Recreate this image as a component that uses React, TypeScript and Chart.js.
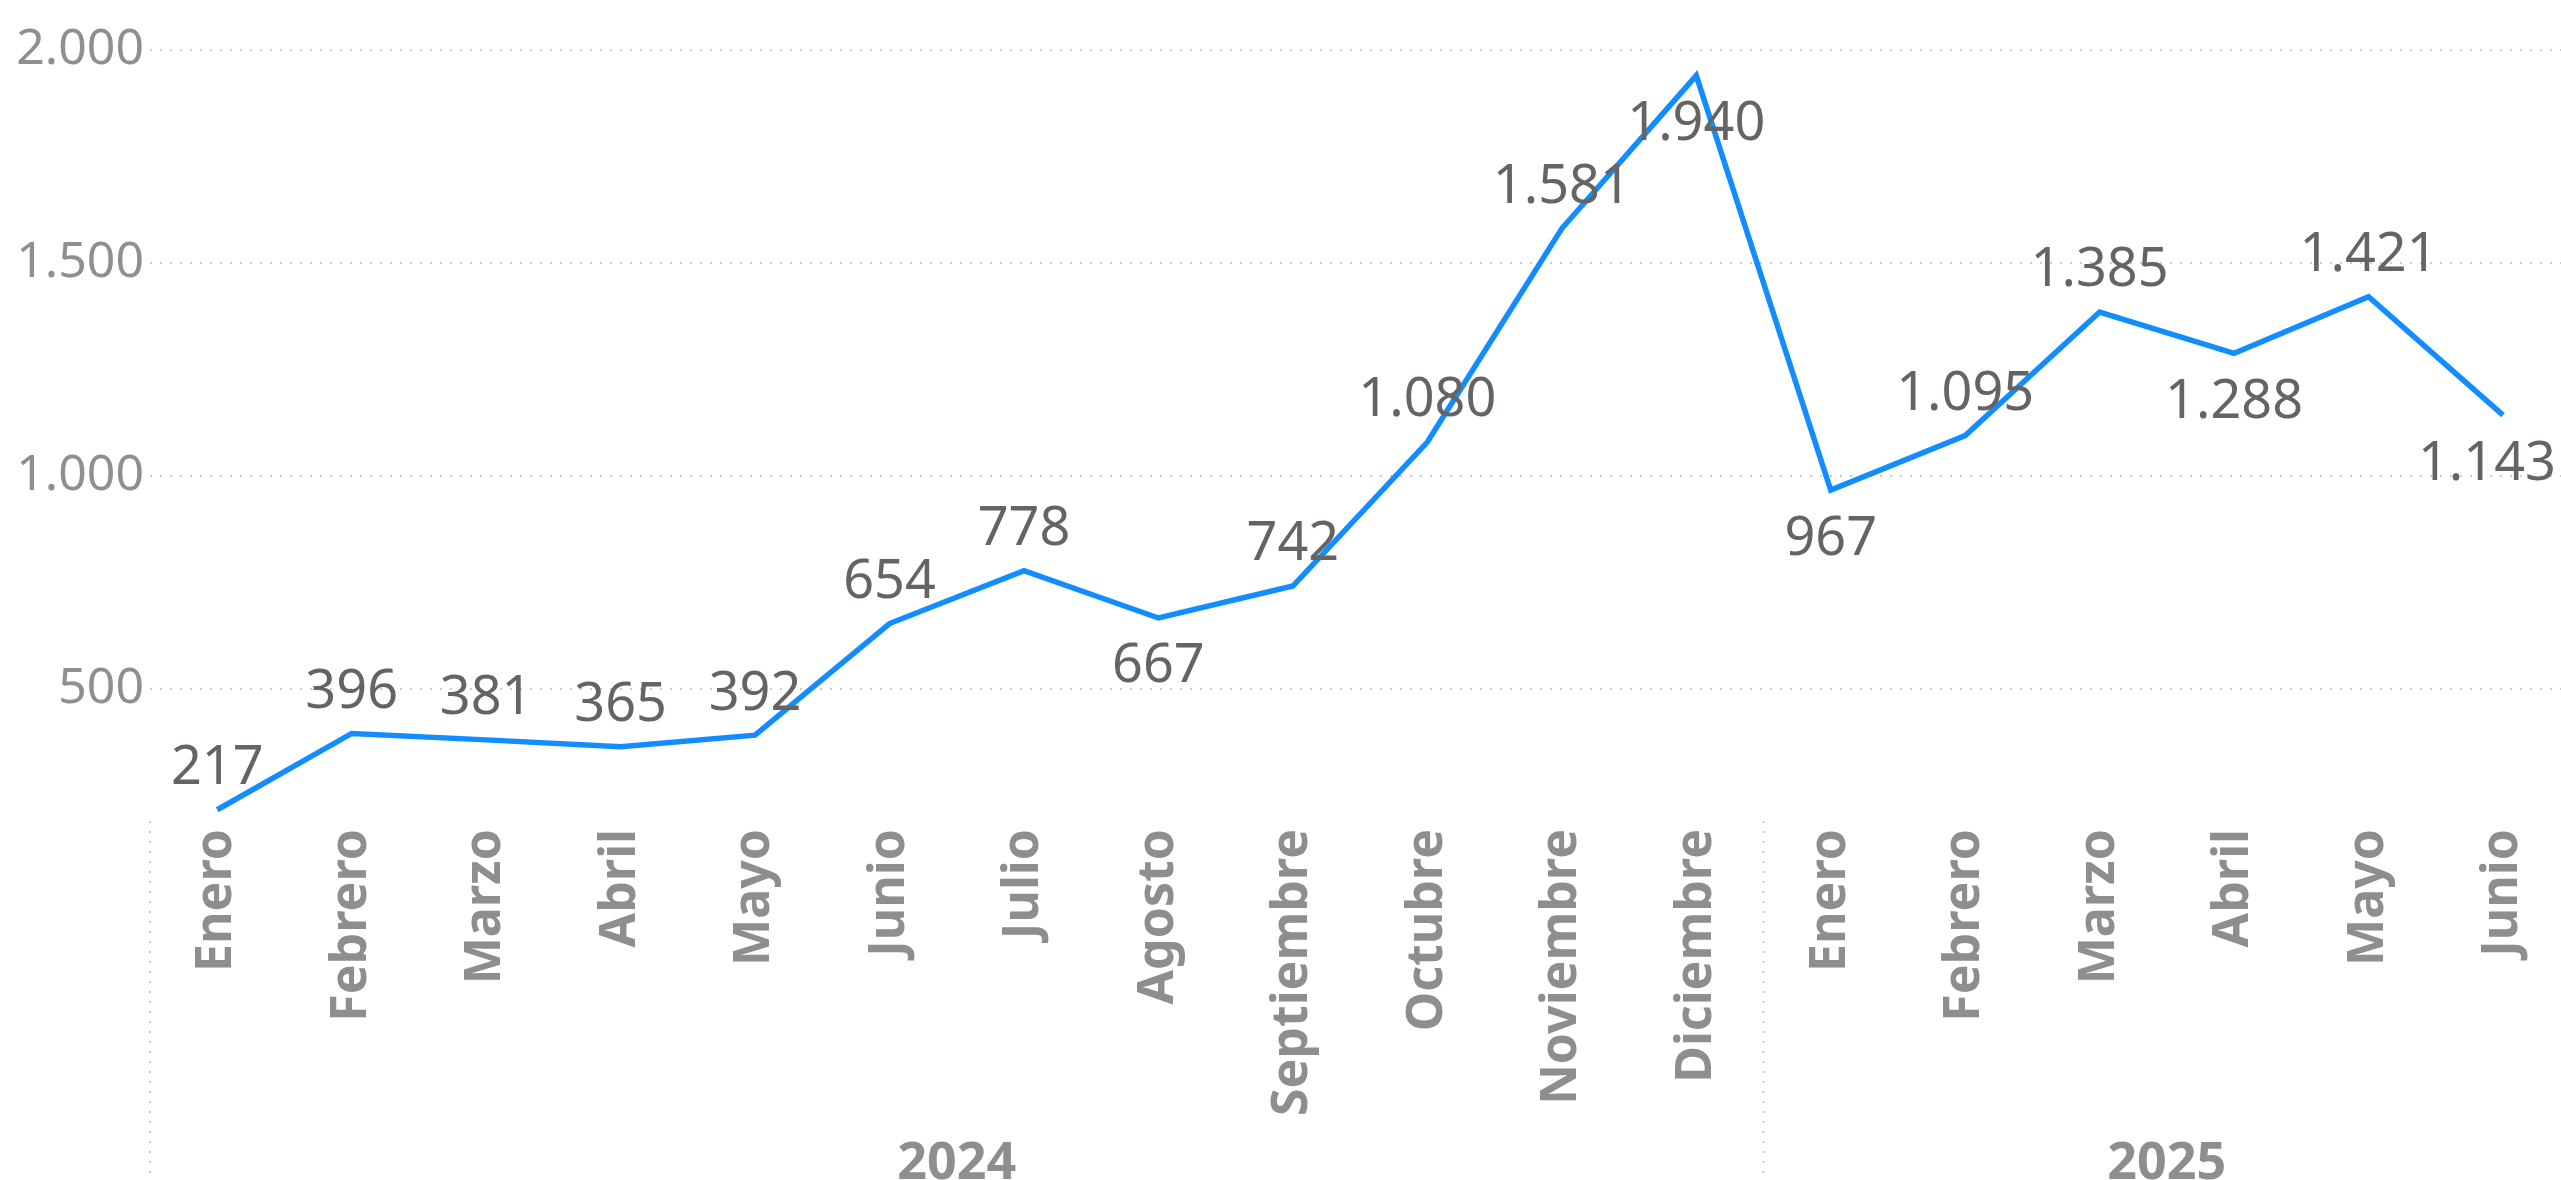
import React, { useEffect, useRef } from 'react';
import { Chart, registerables } from 'chart.js';

Chart.register(...registerables);

// ---- data ----
const months2024 = ['Enero', 'Febrero', 'Marzo', 'Abril', 'Mayo', 'Junio', 'Julio', 'Agosto', 'Septiembre', 'Octubre', 'Noviembre', 'Diciembre'];
const months2025 = ['Enero', 'Febrero', 'Marzo', 'Abril', 'Mayo', 'Junio'];
const years = ['2024', '2025'];
const values2024 = [217, 396, 381, 365, 392, 654, 778, 667, 742, 1080, 1581, 1940];
const values2025 = [967, 1095, 1385, 1288, 1421, 1143];
const yTicks = [500, 1000, 1500, 2000];
const yMin = 200;
const yMax = 2000;
// indices whose value label sits under the line
const labelsBelow = [7, 11, 12, 15, 17];

const FONT = '"Noto Sans", "Open Sans", sans-serif';
const CANVAS_W = 2575;
const CANVAS_H = 1180;

const fmt = (v: number) => String(Math.round(v)).replace(/\B(?=(\d{3})+(?!\d))/g, '.');

const overlayPlugin = {
  id: 'overlay',
  afterDatasetsDraw(chart: any) {
    const ctx = chart.ctx;
    const meta = chart.getDatasetMeta(0);
    const data = chart.data.datasets[0].data as number[];
    const visibleRight = Math.min(chart.width, window.innerWidth) - 5;
    ctx.save();
    ctx.font = `54px ${FONT}`;
    ctx.fillStyle = '#666462';
    ctx.textAlign = 'center';
    ctx.textBaseline = 'alphabetic';
    meta.data.forEach((pt: any, i: number) => {
      const t = fmt(data[i]);
      const w = ctx.measureText(t).width;
      let cx = pt.x;
      if (cx + w / 2 > visibleRight) cx = visibleRight - w / 2;
      const below = labelsBelow.includes(i);
      const cy = below ? pt.y + 45 : pt.y - 45;
      ctx.fillText(t, cx, cy + 54 * 0.36);
    });
    ctx.restore();
  },
  afterDraw(chart: any) {
    const ctx = chart.ctx;
    const x = chart.scales.x;
    const area = chart.chartArea;
    const step = x.getPixelForValue(1) - x.getPixelForValue(0);
    const groups = [
      { name: years[0], count: months2024.length },
      { name: years[1], count: months2025.length },
    ];
    ctx.save();
    let start = 0;
    groups.forEach((g) => {
      const left = x.getPixelForValue(start) - step / 2;
      const right = x.getPixelForValue(start + g.count - 1) + step / 2;
      ctx.strokeStyle = '#c8c8c8';
      ctx.lineWidth = 2;
      ctx.setLineDash([2, 8]);
      ctx.beginPath();
      ctx.moveTo(left, area.bottom + 4);
      ctx.lineTo(left, chart.height);
      ctx.stroke();
      ctx.setLineDash([]);
      ctx.font = `bold 52px ${FONT}`;
      ctx.fillStyle = '#8e8e8e';
      ctx.textAlign = 'center';
      ctx.textBaseline = 'alphabetic';
      ctx.fillText(g.name, (left + right) / 2, chart.height - 1);
      start += g.count;
    });
    ctx.restore();
  },
};

export default function App() {
  const ref = useRef<HTMLCanvasElement | null>(null);

  useEffect(() => {
    document.body.style.overflow = 'hidden';
    document.documentElement.style.overflow = 'hidden';
    const canvas = ref.current;
    if (!canvas) return;
    const labels = [...months2024, ...months2025];
    const values = [...values2024, ...values2025];
    const chart = new Chart(canvas, {
      type: 'line',
      data: {
        labels,
        datasets: [
          {
            data: values,
            borderColor: '#118DFF',
            backgroundColor: '#118DFF',
            borderWidth: 5.5,
            pointRadius: 0,
            pointHoverRadius: 0,
            tension: 0,
            fill: false,
          },
        ],
      },
      options: {
        animation: false,
        responsive: false,
        maintainAspectRatio: false,
        devicePixelRatio: 1,
        layout: { padding: { top: 50, left: 0, right: 0, bottom: 0 } },
        plugins: {
          legend: { display: false },
          tooltip: { enabled: false },
          title: { display: false },
        },
        scales: {
          x: {
            type: 'category',
            offset: true,
            grid: { display: false, drawTicks: false },
            border: { display: false },
            ticks: {
              autoSkip: false,
              minRotation: 90,
              maxRotation: 90,
              padding: 12,
              color: '#8e8e8e',
              font: { family: FONT, size: 50, weight: 'bold' },
            },
            afterFit: (scale: any) => {
              scale.height = 363;
            },
          },
          y: {
            min: yMin,
            max: yMax,
            grid: { color: '#cccccc', lineWidth: 2, drawTicks: false },
            border: { display: false, dash: [2, 8] },
            ticks: {
              padding: 6,
              color: '#8f8f8f',
              font: { family: FONT, size: 50 },
              callback: (v: any) => fmt(Number(v)),
            },
            afterBuildTicks: (axis: any) => {
              axis.ticks = yTicks.map((v) => ({ value: v }));
            },
            afterFit: (scale: any) => {
              scale.width = 150;
            },
          },
        },
      },
      plugins: [overlayPlugin],
    });
    return () => chart.destroy();
  }, []);

  return (
    <div style={{ position: 'fixed', left: 0, top: 0, width: CANVAS_W, height: CANVAS_H, background: '#fff' }}>
      <canvas ref={ref} width={CANVAS_W} height={CANVAS_H} style={{ display: 'block' }} />
    </div>
  );
}
